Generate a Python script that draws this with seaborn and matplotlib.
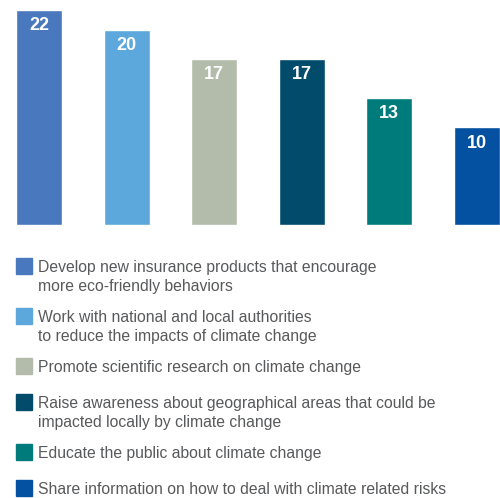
import pandas as pd
import seaborn as sns
import matplotlib.pyplot as plt
from matplotlib.patches import Rectangle

# data
categories = [
    'Develop new insurance products that encourage\nmore eco-friendly behaviors',
    'Work with national and local authorities\nto reduce the impacts of climate change',
    'Promote scientific research on climate change',
    'Raise awareness about geographical areas that could be\nimpacted locally by climate change',
    'Educate the public about climate change',
    'Share information on how to deal with climate related risks',
]
values = [22, 20, 17, 17, 13, 10]
colors = ['#4a78bf', '#5ca8dc', '#b3bcaa', '#024b6a', '#007b7c', '#0351a0']

df = pd.DataFrame({'cat': categories, 'val': values})

sns.set_style('white')
plt.rcParams['font.family'] = ['Liberation Sans', 'DejaVu Sans']

fig = plt.figure(figsize=(5, 4.98), dpi=100)
W, H = 500, 498
bar_w = 0.53
# axes from x=16px to 500px, y from 10px to 225px (top-down)
ax = fig.add_axes([16 / W, (H - 225) / H, (500 - 16) / W, (225 - 10) / H])
sns.barplot(data=df, x='cat', y='val', hue='cat', palette=colors,
            width=bar_w, legend=False, ax=ax, saturation=1)
ax.set_xlim(-bar_w / 2, len(values) - 1 + bar_w / 2)
ax.set_ylim(0, 22)
ax.axis('off')

for i, v in enumerate(values):
    ax.annotate(str(v), (i, v), xytext=(0, -11.5), textcoords='offset points',
                ha='center', va='center', color='white', fontsize=13,
                fontweight='bold')

# legend drawn below
y = 266
for c, lab in zip(colors, categories):
    fig.patches.append(Rectangle((16 / W, (H - y - 8) / H), 16 / W, 16 / H,
                                 transform=fig.transFigure, color=c))
    fig.text(38 / W, (H - y + 6) / H, lab, ha='left', va='top', color='#58595b',
             fontsize=11.3, linespacing=1.33, transform=fig.transFigure)
    y += 50 if '\n' in lab else 36

plt.savefig('out.png', dpi=100)
